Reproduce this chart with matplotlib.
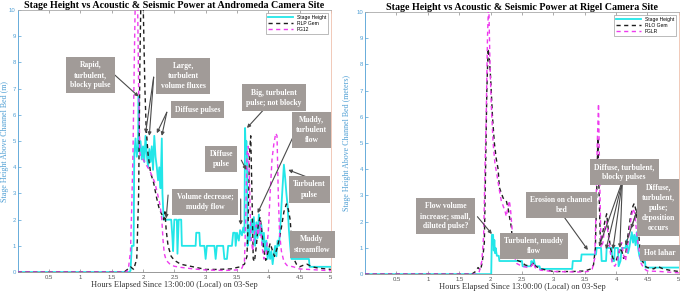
import matplotlib
matplotlib.use("Agg")
import matplotlib.pyplot as plt

# ---------------- DATA ----------------
# Andromeda (left)
and_stage_t = [0, 1.78, 1.80, 1.82, 1.85, 1.86, 1.88, 1.90, 1.92, 1.93, 1.94, 1.96, 1.98, 2.00, 2.02, 2.04, 2.06,
               2.08, 2.10, 2.12, 2.14, 2.16, 2.18, 2.20, 2.22, 2.24, 2.26, 2.28, 2.30, 2.31, 2.33, 2.45, 2.47,
               2.48, 2.50, 2.54, 2.55, 2.57, 2.61, 2.62, 2.84, 2.85, 2.90, 2.91, 2.98, 3.00, 3.02, 3.14, 3.16,
               3.18, 3.28, 3.30, 3.34, 3.36, 3.42, 3.44, 3.47, 3.48, 3.50, 3.53, 3.55, 3.58, 3.60, 3.62, 3.63,
               3.64, 3.65, 3.66, 3.67, 3.69, 3.71, 3.73, 3.75, 3.77, 3.79, 3.81, 3.83, 3.85, 3.87, 3.89, 3.91,
               3.93, 3.95, 3.97, 3.99, 4.01, 4.03, 4.05, 4.07, 4.09, 4.11, 4.13, 4.15, 4.17, 4.19, 4.21, 4.23,
               4.25, 4.27, 4.29, 4.31, 4.33, 4.35, 4.37, 4.65, 4.66, 5.0]
and_stage_v = [0, 0, 0.05, 1.0, 1.0, 4.5, 5.1, 4.4, 4.8, 6.7, 4.6, 5.0, 4.3, 4.8, 4.2, 5.2, 4.5,
               4.0, 4.7, 4.2, 4.8, 3.9, 5.2, 4.4, 4.0, 3.5, 4.0, 3.2, 5.1, 3.0, 2.0, 2.0, 1.3,
               0.8, 2.0, 2.0, 0.7, 2.0, 2.0, 1.0, 1.0, 1.5, 1.5, 1.0, 1.0, 0.5, 1.0, 1.0, 0.5,
               1.0, 1.0, 0.5, 0.5, 1.0, 1.0, 1.5, 1.5, 1.0, 1.5, 1.2, 1.6, 1.4, 1.7, 1.5, 5.5,
               4.5, 5.0, 4.4, 1.0, 1.8, 1.2, 2.0, 1.5, 2.1, 1.0, 1.9, 1.3, 2.2, 1.4, 1.8, 1.0,
               1.5, 0.8, 1.2, 0.5, 0.9, 0.5, 0.8, 0.3, 0.7, 1.0, 0.6, 1.2, 1.0, 1.6, 2.5, 3.3,
               4.1, 3.6, 3.0, 2.5, 1.6, 1.0, 0.5, 0.5, 0.2, 0.2]

and_gem_t = [0, 1.70, 1.75, 1.80, 1.85, 1.90, 1.93, 1.95, 1.97, 2.00, 2.03, 2.05, 2.08, 2.12, 2.17, 2.22, 2.26,
             2.30, 2.33, 2.35, 2.37, 2.40, 2.45, 2.50, 2.60, 2.70, 2.80, 2.90, 3.00, 3.20, 3.40, 3.55, 3.62,
             3.66, 3.68, 3.70, 3.72, 3.74, 3.76, 3.78, 3.81, 3.84, 3.87, 3.90, 3.93, 3.96, 4.00, 4.03, 4.07,
             4.10, 4.14, 4.18, 4.21, 4.25, 4.29, 4.32, 4.35, 4.38, 4.41, 4.45, 4.50, 4.55, 4.62, 4.70, 4.80, 5.0]
and_gem_v = [0, 0, 0.1, 0.2, 0.1, 0.5, 3.0, 8.0, 11, 10.5, 7.0, 5.5, 4.5, 3.8, 3.4, 2.8, 2.4,
             2.2, 2.0, 2.3, 1.6, 1.0, 0.6, 0.45, 0.3, 0.25, 0.2, 0.15, 0.1, 0.1, 0.12, 0.2, 0.3,
             0.6, 2.0, 4.5, 5.2, 3.0, 0.5, 0.4, 1.0, 1.8, 2.1, 1.5, 0.8, 0.45, 0.8, 1.1, 0.8,
             0.6, 0.9, 1.3, 1.7, 2.3, 2.6, 2.4, 2.0, 1.0, 0.5, 0.3, 0.2, 0.25, 0.3, 0.2, 0.15, 0.1]

and_fg_t = [0, 1.74, 1.77, 1.80, 1.82, 1.84, 1.86, 1.88, 1.91, 1.93, 1.95, 2.00, 2.05, 2.10, 2.14, 2.19, 2.23,
            2.26, 2.28, 2.30, 2.32, 2.34, 2.37, 2.43, 2.50, 2.60, 2.80, 3.00, 3.30, 3.50, 3.58, 3.62, 3.64,
            3.66, 3.68, 3.70, 3.72, 3.75, 3.78, 3.81, 3.84, 3.87, 3.90, 3.93, 3.96, 4.00, 4.03, 4.06, 4.09,
            4.12, 4.14, 4.16, 4.18, 4.21, 4.25, 4.30, 4.40, 4.50, 5.0]
and_fg_v = [0, 0, 0.2, 0.8, 2.5, 4.6, 8.0, 11, 11, 7.0, 4.5, 4.3, 4.1, 3.9, 3.7, 3.4, 3.0,
            2.7, 2.4, 2.0, 1.2, 0.7, 0.45, 0.3, 0.22, 0.18, 0.12, 0.08, 0.06, 0.08, 0.15, 0.4, 2.0,
            4.5, 4.8, 3.5, 1.5, 0.8, 1.5, 1.8, 1.4, 1.9, 1.0, 0.5, 0.6, 1.5, 3.0, 4.3, 4.9,
            5.3, 5.2, 3.0, 1.5, 0.8, 0.4, 0.25, 0.2, 0.12, 0.05]

# Rigel (right)
rig_stage_t = [0, 2.01, 2.02, 2.04, 2.05, 2.06, 2.07, 2.08, 2.10, 2.13, 2.14, 2.50, 2.51, 2.64, 2.65, 2.67, 2.69,
               2.71, 2.78, 2.79, 3.30, 3.31, 3.44, 3.45, 3.68, 3.69, 3.76, 3.77, 3.84, 3.85, 3.93, 3.94, 3.97,
               3.98, 4.03, 4.04, 4.07, 4.09, 4.15, 4.17, 4.19, 4.21, 4.23, 4.25, 4.27, 4.29, 4.31, 4.33, 4.35,
               4.37, 4.40, 4.46, 4.47, 5.0]
rig_stage_v = [0, 0, 1.5, 1.5, 0.9, 1.3, 0.8, 1.0, 0.7, 0.7, 0.5, 0.5, 0.3, 0.3, 0.5, 0.4, 0.55,
               0.3, 0.3, 0.2, 0.2, 0.5, 0.5, 0.75, 0.75, 1.0, 1.0, 0.5, 0.5, 1.0, 1.0, 0.5, 0.5,
               1.0, 1.0, 0.3, 0.5, 1.0, 1.0, 1.3, 0.8, 1.0, 1.3, 1.6, 1.2, 1.5, 1.1, 1.6, 1.0,
               0.7, 0.5, 0.5, 0.25, 0.25]

rig_gem_t = [0, 1.70, 1.76, 1.80, 1.84, 1.87, 1.90, 1.92, 1.94, 1.96, 1.98, 2.00, 2.03, 2.06, 2.09, 2.12, 2.14,
             2.17, 2.20, 2.25, 2.28, 2.30, 2.33, 2.36, 2.40, 2.45, 2.50, 2.55, 2.62, 2.66, 2.69, 2.72, 2.80,
             2.90, 3.00, 3.30, 3.50, 3.60, 3.64, 3.67, 3.69, 3.71, 3.73, 3.75, 3.78, 3.82, 3.85, 3.88, 3.91,
             3.95, 4.00, 4.04, 4.08, 4.12, 4.15, 4.19, 4.23, 4.27, 4.29, 4.32, 4.35, 4.38, 4.42, 4.46, 4.50,
             4.60, 4.66, 4.75, 4.85, 5.0]
rig_gem_v = [0, 0, 0.1, 0.25, 0.15, 0.5, 1.2, 4.0, 7.0, 8.6, 8.2, 7.5, 6.0, 5.0, 4.4, 4.0, 3.3,
             3.1, 2.9, 2.8, 2.5, 2.2, 1.8, 0.9, 0.55, 0.5, 0.45, 0.35, 0.3, 0.35, 0.45, 0.3, 0.2,
             0.15, 0.1, 0.1, 0.12, 0.2, 0.35, 1.0, 3.0, 5.2, 3.0, 1.2, 1.5, 2.0, 2.3, 1.6, 1.0,
             0.6, 0.5, 0.8, 1.0, 0.6, 0.7, 1.5, 2.2, 2.6, 2.7, 2.4, 1.8, 1.0, 0.5, 0.3, 0.25,
             0.2, 0.3, 0.2, 0.15, 0.1]

rig_fg_t = [0, 1.78, 1.82, 1.86, 1.89, 1.91, 1.93, 1.95, 1.97, 1.99, 2.01, 2.04, 2.07, 2.10, 2.14, 2.17, 2.20,
            2.23, 2.25, 2.28, 2.30, 2.32, 2.34, 2.36, 2.39, 2.42, 2.50, 2.60, 2.65, 2.68, 2.71, 2.80, 3.00,
            3.40, 3.55, 3.62, 3.66, 3.68, 3.70, 3.72, 3.74, 3.76, 3.79, 3.82, 3.85, 3.88, 3.91, 3.94, 3.98,
            4.02, 4.06, 4.09, 4.12, 4.15, 4.19, 4.23, 4.27, 4.30, 4.33, 4.36, 4.40, 4.45, 4.50, 4.70, 5.0]
rig_fg_v = [0, 0, 0.1, 0.5, 1.5, 4.0, 6.0, 9.0, 10.5, 8.0, 6.5, 5.0, 4.2, 3.8, 3.2, 2.8, 2.6,
            2.4, 2.2, 2.6, 2.8, 2.4, 1.8, 1.0, 0.6, 0.4, 0.3, 0.25, 0.3, 0.45, 0.25, 0.15, 0.1,
            0.08, 0.1, 0.2, 0.6, 2.5, 5.0, 6.5, 3.5, 1.0, 1.2, 1.8, 2.0, 1.4, 0.8, 0.4, 0.3,
            0.5, 1.0, 1.2, 0.7, 0.5, 1.2, 2.0, 2.5, 2.3, 1.5, 1.0, 0.4, 0.2, 0.12, 0.1, 0.05]

x_ticks = [0.5, 1, 1.5, 2, 2.5, 3, 3.5, 4, 4.5, 5]
x_tick_labels = ["0.5", "1", "1.5", "2", "2.5", "3", "3.5", "4", "4.5", "5"]
y_ticks = [0, 1, 2, 3, 4, 5, 6, 7, 8, 9, 10]

titles = ["Stage Height vs Acoustic & Seismic Power at Andromeda Camera Site",
          "Stage Height vs Acoustic & Seismic Power at Rigel Camera Site"]
ylabels = ["Stage Height Above Channel Bed (m)", "Stage Height Above Channel Bed (meters)"]
xlabel = "Hours Elapsed Since 13:00:00 (Local) on 03-Sep"
legend_labels = [["Stage Height", "RLP Gem", "FG12"], ["Stage Height", "RLO Gem", "FGLR"]]

# annotations: (text, box center, [(arrow start, target), ...])
and_notes = [
    ("Rapid,\nturbulent,\nblocky pulse", (1.16, 7.52), [((1.55, 7.52), (1.93, 6.7))]),
    ("Large,\nturbulent\nvolume fluxes", (2.64, 7.48), [((2.17, 7.44), (2.04, 5.3)), ((2.17, 7.44), (2.10, 5.2))]),
    ("Diffuse pulses", (2.87, 6.2), [((2.38, 6.1), (2.22, 5.3)), ((2.38, 6.1), (2.30, 5.2))]),
    ("Big, turbulent\npulse; not blocky", (4.09, 6.66), [((3.95, 6.26), (3.66, 5.5))]),
    ("Muddy,\nturbulent\nflow", (4.69, 5.42), [((4.41, 5.23), (3.83, 2.25))]),
    ("Diffuse\npulse", (3.25, 4.31), [((3.57, 4.27), (3.65, 3.9))]),
    ("Turbulent\npulse", (4.66, 3.15), [((4.66, 3.59), (4.32, 3.9))]),
    ("Volume decrease;\nmuddy flow", (2.99, 2.67), [((2.40, 2.94), (2.37, 2.05)), ((3.56, 2.79), (3.56, 1.8))]),
    ("Muddy\nstreamflow", (4.70, 1.05), []),
]
rig_notes = [
    ("Flow volume\nincrease; small,\ndiluted pulse?", (1.28, 2.21), [((1.79, 2.19), (2.02, 1.53))]),
    ("Turbulent, muddy\nflow", (2.69, 1.07), []),
    ("Erosion on channel\nbed", (3.13, 2.63), [((3.15, 2.25), (3.55, 0.92))]),
    ("Diffuse, turbulent,\nblocky pulses", (4.13, 3.89),
     [((4.10, 3.55), (3.73, 1.05)), ((4.10, 3.55), (3.84, 0.95)),
      ((4.10, 3.55), (3.95, 0.95)), ((4.10, 3.55), (4.06, 1.0))]),
    ("Diffuse,\nturbulent,\npulse;\ndeposition\noccurs", (4.67, 2.54),
     [((4.36, 2.63), (4.15, 1.1)), ((4.36, 2.63), (4.24, 1.74))]),
    ("Hot lahar", (4.70, 0.80), []),
]

# ---------------- STYLE ----------------
SERIF = ["Liberation Serif", "DejaVu Serif"]
SANS = ["Liberation Sans", "DejaVu Sans"]
CYAN = "#22e6e8"
MAG = "#ee3bee"
BLK = "#1e1e1e"
BLUE = "#4f9fd4"
BOX = "#a19b98"
ARROW = "#4a4a4a"

fig = plt.figure(figsize=(6.85, 2.97), dpi=100)
positions = [[0.026, 0.084, 0.457, 0.882], [0.533, 0.077, 0.458, 0.883]]
ylabel_x = [-0.027, -0.045]
series = [
    (and_stage_t, and_stage_v, and_gem_t, and_gem_v, and_fg_t, and_fg_v, and_notes),
    (rig_stage_t, rig_stage_v, rig_gem_t, rig_gem_v, rig_fg_t, rig_fg_v, rig_notes),
]

for i, pos in enumerate(positions):
    ax = fig.add_axes(pos)
    st, sv, gt, gv, ft, fv, notes = series[i]
    ax.plot(st, sv, color=CYAN, lw=1.3, label=legend_labels[i][0], zorder=3)
    ax.plot(gt, gv, color=BLK, lw=1.0, ls=(0, (3, 2.5)), label=legend_labels[i][1], zorder=4)
    ax.plot(ft, fv, color=MAG, lw=1.0, ls=(0, (3, 2.5)), label=legend_labels[i][2], zorder=4)
    ax.set_xlim(0, 5)
    ax.set_ylim(0, 10)
    ax.set_xticks(x_ticks)
    ax.set_xticklabels(x_tick_labels)
    ax.set_yticks(y_ticks)
    ax.tick_params(axis="both", direction="in", length=2, width=0.5, labelsize=4.3, pad=2)
    ax.tick_params(axis="y", pad=1.5)
    ax.tick_params(axis="x", top=True, colors="#888888", labelcolor="#555555")
    ax.tick_params(axis="y", colors=BLUE, labelcolor=BLUE)
    for lab in ax.get_xticklabels() + ax.get_yticklabels():
        lab.set_family(SANS)
    ax.spines["left"].set_color(BLUE)
    ax.spines["right"].set_color("#efc0ad")
    ax.spines["top"].set_color("#aaaaaa")
    ax.spines["bottom"].set_color("#888888")
    for s in ax.spines.values():
        s.set_linewidth(0.6)
    ax.set_title(titles[i], fontsize=7.2, fontweight="bold", family=SERIF, pad=1.5)
    ax.set_xlabel(xlabel, fontsize=6.0, family=SERIF, color="#333333", labelpad=1)
    ax.set_ylabel(ylabels[i], fontsize=5.8, family=SERIF, color=BLUE)
    ax.yaxis.set_label_coords(ylabel_x[i], 0.5)
    leg = ax.legend(loc="upper right", handlelength=5, frameon=True,
                    fancybox=False, edgecolor="#888888", borderaxespad=0.6,
                    labelspacing=0.2, borderpad=0.4, prop={"family": SANS, "size": 3.6})
    leg.get_frame().set_linewidth(0.5)
    for txt, center, arrows in notes:
        for start, target in arrows:
            ax.annotate("", xy=target, xytext=start,
                        arrowprops=dict(arrowstyle="-|>", color=ARROW, lw=0.8,
                                        mutation_scale=5, shrinkA=0, shrinkB=0),
                        zorder=6)
        ax.text(center[0], center[1], txt, ha="center", va="center", fontsize=5.5,
                fontweight="bold", family=SERIF, color="white", linespacing=1.35,
                bbox=dict(boxstyle="square,pad=0.55", fc=BOX, ec="none"), zorder=7)

fig.savefig("out.png", dpi=100)
